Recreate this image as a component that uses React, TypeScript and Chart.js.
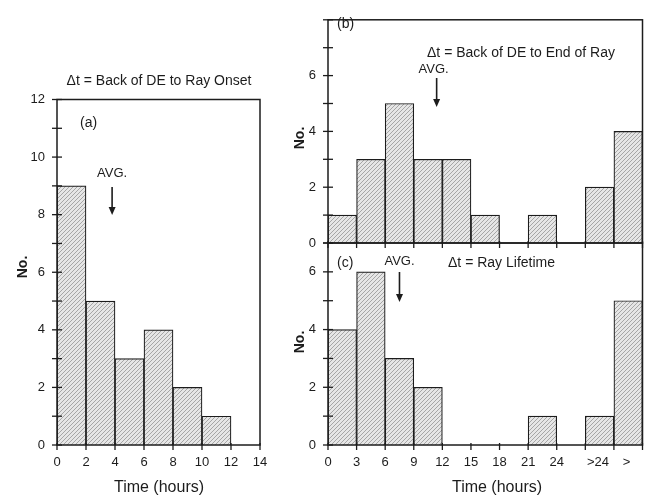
import React, { useEffect, useRef } from "react";
import { Chart, registerables } from "chart.js";

Chart.register(...registerables);

const FONT = '"Liberation Sans", Arial, Helvetica, sans-serif';
const INK = "#1c1c1c";
const W = 652;
const H = 496;
const Y_AXIS_W = 50;
const X_AXIS_H = 26;

// ---- Panel (a): Back of DE to Ray Onset ----
const binStartsA = [0, 2, 4, 6, 8, 10, 12];
const countsA = [9, 5, 3, 4, 2, 1, 0];
const binWidthA = 2;
const avgA = 3.8;

// ---- Panels (b) and (c): shared bins ----
const binStartsBC = [0, 3, 6, 9, 12, 15, 18, 21, 24, 27, 30];
const countsB = [1, 3, 5, 3, 3, 1, 0, 1, 0, 2, 4];
const countsC = [4, 6, 3, 2, 0, 0, 0, 1, 0, 1, 5];
const binWidthBC = 3;
const avgB = 11.4;
const avgC = 7.5;
// the last two labels sit just right of their tick in the original
const tickLabelsBC = ["0", "3", "6", "9", "12", "15", "18", "21", "24", "       >24", "       >", ""];

type TextItem = { text: string; x: number; y: number; align?: CanvasTextAlign; size?: number; bold?: boolean; rotate?: boolean };

type PanelSpec = {
  starts: number[];
  counts: number[];
  binWidth: number;
  xMax: number;
  yMax: number;
  yLabelMax: number;
  area: { left: number; top: number; right: number; bottom: number };
  xLabels: string[] | null;
  showXLabels: boolean;
  avg: number;
  avgTextY: number;
  avgTextDx: number;
  arrowTop: number;
  arrowBottom: number;
  texts: TextItem[];
};

const panels: PanelSpec[] = [
  {
    starts: binStartsA,
    counts: countsA,
    binWidth: binWidthA,
    xMax: 14,
    yMax: 12,
    yLabelMax: 12,
    area: { left: 57, top: 99.5, right: 260, bottom: 445 },
    xLabels: null,
    showXLabels: true,
    avg: avgA,
    avgTextY: 173,
    avgTextDx: 0,
    arrowTop: 187,
    arrowBottom: 215,
    texts: [
      { text: "\u0394t = Back of DE to Ray Onset", x: 159, y: 81, align: "center", size: 14 },
      { text: "(a)", x: 80, y: 123, align: "left", size: 14 },
      { text: "No.", x: 23, y: 267, rotate: true, size: 14, bold: true },
      { text: "Time (hours)", x: 159, y: 488, align: "center", size: 16 },
    ],
  },
  {
    starts: binStartsBC,
    counts: countsB,
    binWidth: binWidthBC,
    xMax: 33,
    yMax: 8,
    yLabelMax: 6,
    area: { left: 328, top: 12, right: 649, bottom: 243 },
    xLabels: tickLabelsBC,
    showXLabels: false,
    avg: avgB,
    avgTextY: 69,
    avgTextDx: -3,
    arrowTop: 78,
    arrowBottom: 107,
    texts: [
      { text: "(b)", x: 337, y: 24, align: "left", size: 14 },
      { text: "\u0394t = Back of DE to End of Ray", x: 427, y: 53, align: "left", size: 14 },
      { text: "No.", x: 300, y: 138, rotate: true, size: 14, bold: true },
    ],
  },
  {
    starts: binStartsBC,
    counts: countsC,
    binWidth: binWidthBC,
    xMax: 33,
    yMax: 7,
    yLabelMax: 6,
    area: { left: 328, top: 243, right: 649, bottom: 445 },
    xLabels: tickLabelsBC,
    showXLabels: true,
    avg: avgC,
    avgTextY: 261,
    avgTextDx: 0,
    arrowTop: 272,
    arrowBottom: 302,
    texts: [
      { text: "(c)", x: 337, y: 263, align: "left", size: 14 },
      { text: "\u0394t = Ray Lifetime", x: 448, y: 263, align: "left", size: 14 },
      { text: "No.", x: 300, y: 342, rotate: true, size: 14, bold: true },
      { text: "Time (hours)", x: 497, y: 488, align: "center", size: 16 },
    ],
  },
];

function makeHatch(target: HTMLCanvasElement): CanvasPattern | string {
  const tile = document.createElement("canvas");
  tile.width = 4;
  tile.height = 4;
  const g = tile.getContext("2d");
  if (!g) return "#d8d8d8";
  g.fillStyle = "#e6e6e6";
  g.fillRect(0, 0, 4, 4);
  g.strokeStyle = "#a6a6a6";
  g.lineWidth = 1;
  g.beginPath();
  g.moveTo(0, 4);
  g.lineTo(4, 0);
  g.moveTo(-1, 1);
  g.lineTo(1, -1);
  g.moveTo(3, 5);
  g.lineTo(5, 3);
  g.stroke();
  const tctx = target.getContext("2d");
  const p = tctx ? tctx.createPattern(tile, "repeat") : null;
  return p || "#d8d8d8";
}

function Panel({ spec }: { spec: PanelSpec }) {
  const ref = useRef<HTMLCanvasElement | null>(null);

  useEffect(() => {
    const canvas = ref.current;
    if (!canvas) return;
    const hatch = makeHatch(canvas);

    const annot = {
      id: "annot",
      afterDraw(chart: any) {
        const ctx: CanvasRenderingContext2D = chart.ctx;
        const { left, top, right, bottom } = chart.chartArea;
        ctx.save();
        ctx.strokeStyle = INK;
        ctx.fillStyle = INK;
        ctx.lineWidth = 1.5;
        ctx.strokeRect(left, top, right - left, bottom - top);

        ctx.lineWidth = 1.3;
        const ys = chart.scales.y;
        ys.ticks.forEach((t: any) => {
          const py = ys.getPixelForValue(t.value);
          ctx.beginPath();
          ctx.moveTo(left - 5, py);
          ctx.lineTo(left + 5, py);
          ctx.stroke();
        });
        const xs = chart.scales.x;
        xs.ticks.forEach((t: any) => {
          const px = xs.getPixelForValue(t.value);
          ctx.beginPath();
          ctx.moveTo(px, bottom - 2);
          ctx.lineTo(px, bottom + 5);
          ctx.stroke();
        });

        // AVG arrow
        const ax = xs.getPixelForValue(spec.avg);
        ctx.lineWidth = 1.6;
        ctx.beginPath();
        ctx.moveTo(ax, spec.arrowTop);
        ctx.lineTo(ax, spec.arrowBottom - 5);
        ctx.stroke();
        ctx.beginPath();
        ctx.moveTo(ax - 3.5, spec.arrowBottom - 8);
        ctx.lineTo(ax + 3.5, spec.arrowBottom - 8);
        ctx.lineTo(ax, spec.arrowBottom);
        ctx.closePath();
        ctx.fill();

        ctx.textBaseline = "middle";
        ctx.font = `13px ${FONT}`;
        ctx.textAlign = "center";
        ctx.fillText("AVG.", ax + spec.avgTextDx, spec.avgTextY);

        spec.texts.forEach((t) => {
          ctx.font = `${t.bold ? "bold " : ""}${t.size || 13}px ${FONT}`;
          if (t.rotate) {
            ctx.save();
            ctx.translate(t.x, t.y);
            ctx.rotate(-Math.PI / 2);
            ctx.textAlign = "center";
            ctx.fillText(t.text, 0, 0);
            ctx.restore();
          } else {
            ctx.textAlign = t.align || "left";
            ctx.fillText(t.text, t.x, t.y);
          }
        });
        ctx.restore();
      },
    };

    const chart = new Chart(canvas, {
      type: "bar",
      data: {
        datasets: [
          {
            data: spec.starts.map((s, i) => ({
              x: s + spec.binWidth / 2,
              y: spec.counts[i] === 0 ? null : spec.counts[i],
            })) as any,
            backgroundColor: hatch as any,
            borderColor: INK,
            borderWidth: 1.2,
            barPercentage: 1,
            categoryPercentage: 1,
            borderSkipped: "start",
          },
        ],
      },
      options: {
        responsive: false,
        animation: false,
        devicePixelRatio: 1,
        events: [],
        layout: {
          padding: {
            left: spec.area.left - Y_AXIS_W,
            top: spec.area.top,
            right: W - spec.area.right,
            bottom: H - spec.area.bottom - X_AXIS_H,
          },
        },
        plugins: {
          legend: { display: false },
          tooltip: { enabled: false },
          title: { display: false },
        },
        scales: {
          x: {
            type: "linear",
            min: 0,
            max: spec.xMax,
            offset: false,
            grid: { display: false, drawTicks: false, tickLength: 0 },
            border: { display: false },
            ticks: {
              stepSize: spec.binWidth,
              autoSkip: false,
              maxRotation: 0,
              padding: 9.5,
              color: INK,
              font: { family: FONT, size: 13 },
              callback: (v: any, idx: number) => {
                if (!spec.showXLabels) return "";
                if (spec.xLabels) return spec.xLabels[idx] ?? "";
                return String(v);
              },
            },
            afterFit: (s: any) => {
              s.height = X_AXIS_H;
            },
          },
          y: {
            type: "linear",
            min: 0,
            max: spec.yMax,
            grid: { display: false, drawTicks: false, tickLength: 0 },
            border: { display: false },
            ticks: {
              stepSize: 1,
              autoSkip: false,
              padding: 12,
              color: INK,
              font: { family: FONT, size: 13 },
              callback: (v: any) => (Number(v) % 2 === 0 && Number(v) <= spec.yLabelMax ? String(v) : ""),
            },
            afterFit: (s: any) => {
              s.width = Y_AXIS_W;
            },
          },
        },
      } as any,
      plugins: [annot],
    });

    return () => chart.destroy();
  }, [spec]);

  return (
    <canvas
      ref={ref}
      width={W}
      height={H}
      style={{ position: "absolute", left: 0, top: 0, width: W, height: H }}
    />
  );
}

export default function App() {
  return (
    <div style={{ position: "absolute", left: 0, top: 0, width: W, height: H, background: "#ffffff" }}>
      {panels.map((p, i) => (
        <Panel key={i} spec={p} />
      ))}
    </div>
  );
}
